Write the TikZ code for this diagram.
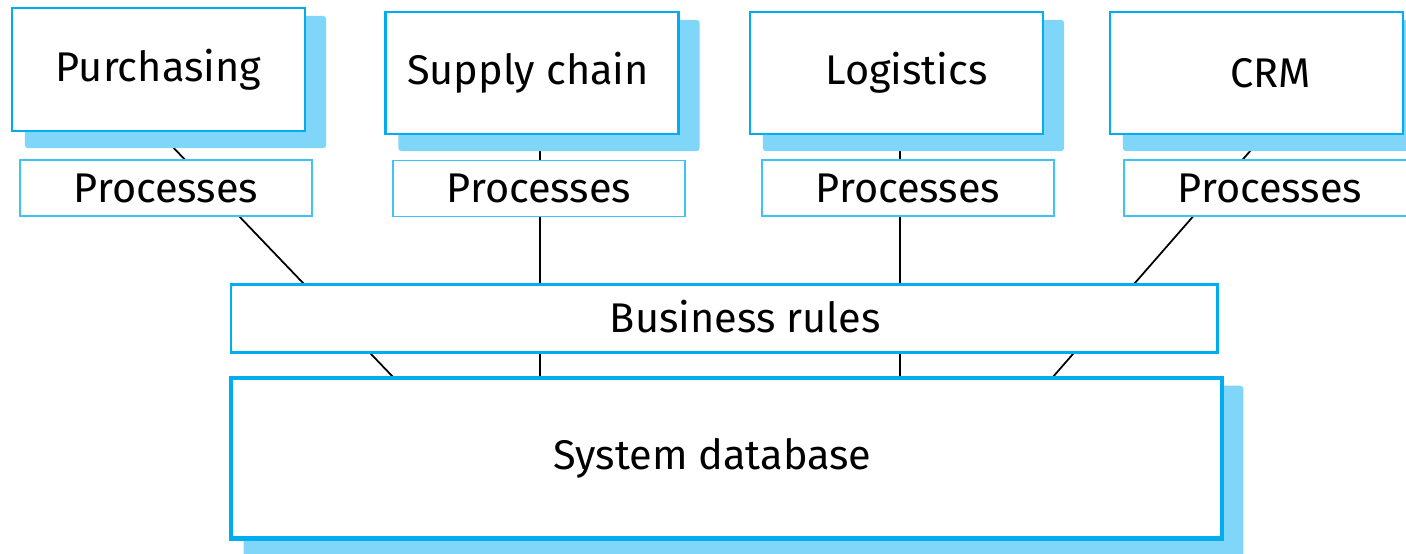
\documentclass[tikz,border=0pt]{standalone}
\usepackage{fontspec}
\setmainfont{Fira Sans}
\usepackage{xcolor}
\usepackage{tikz}
\usetikzlibrary{calc,backgrounds}
\definecolor{boxblue}{RGB}{0,174,239}
\definecolor{shadeblue}{RGB}{128,214,248}

\begin{document}
\begin{tikzpicture}[
	boxfont/.style={font=\fontsize{11.8}{14}\selectfont},
	subsys/.style={boxfont, draw=boxblue, line width=0.6pt, fill=white, inner sep=0pt,
		minimum width=2.93cm, minimum height=1.22cm},
	procbox/.style={boxfont, draw=boxblue!75, line width=0.35pt, fill=white, inner sep=0pt,
		minimum width=2.92cm, minimum height=0.56cm},
	rulebox/.style={boxfont, draw=boxblue, line width=0.85pt, fill=white, inner sep=0pt},
	dbbox/.style={boxfont, draw=boxblue, line width=1.3pt, fill=white, inner sep=0pt},
	shade/.style={fill=shadeblue, rounded corners=0.8pt},
	link/.style={draw=black, line width=0.5pt}
	]
	\useasboundingbox (0,0) rectangle (14.06,-5.53);
	
	% subsystems
	\node[subsys, minimum height=1.23cm] (purch) at (1.585,-0.695) {Purchasing};
	\node[subsys] (supply) at (5.32,-0.73) {\hspace*{-0.08cm}Supply chain};
	\node[subsys] (logist) at (8.965,-0.73) {\hspace*{0.2cm}Logistics};
	\node[subsys] (crm) at (12.565,-0.73) {\hspace*{0.28cm}CRM};
	
	\node[procbox] (proc1) at (1.66,-1.88) {Processes};
	\node[procbox] (proc2) at (5.39,-1.885) {Processes};
	\node[procbox] (proc3) at (9.08,-1.88) {Processes};
	\node[procbox] (proc4) at (12.70,-1.88) {Processes};
	
	\node[rulebox, minimum width=9.865cm, minimum height=0.685cm] (rules) at (7.2425,-3.1825) {\hspace*{0.42cm}\raisebox{1pt}{Business rules}};
	\node[dbbox, minimum width=9.91cm, minimum height=1.605cm] (db) at (7.265,-4.5825) {\hspace*{-0.28cm}\raisebox{1.5pt}{System database}};
	
	\coordinate (db-in1) at (3.94,-3.78);
	\coordinate (db-in2) at (5.40,-3.78);
	\coordinate (db-in3) at (9.00,-3.78);
	\coordinate (db-in4) at (10.52,-3.78);
	\coordinate (crm-out) at (12.65,-1.34);
	
	\begin{pgfonlayer}{background}
		\draw[link] (purch.south) -- (db-in1);
		\draw[link] (supply.south -| db-in2) -- (db-in2);
		\draw[link] (logist.south -| db-in3) -- (db-in3);
		\draw[link] (crm-out) -- (db-in4);
		
		\fill[shade] ($(purch.south west)+(0.14,-0.16)$) rectangle ($(purch.north east)+(0.20,-0.09)$);
		\fill[shade] ($(supply.south west)+(0.14,-0.16)$) rectangle ($(supply.north east)+(0.20,-0.09)$);
		\fill[shade] ($(logist.south west)+(0.14,-0.16)$) rectangle ($(logist.north east)+(0.20,-0.09)$);
		\fill[shade] ($(crm.south west)+(0.14,-0.16)$) rectangle ($(crm.north east)+(0.20,-0.09)$);
		\fill[shade] ($(db.south west)+(0.15,-0.25)$) rectangle ($(db.north east)+(0.19,-0.10)$);
	\end{pgfonlayer}
\end{tikzpicture}
\end{document}
